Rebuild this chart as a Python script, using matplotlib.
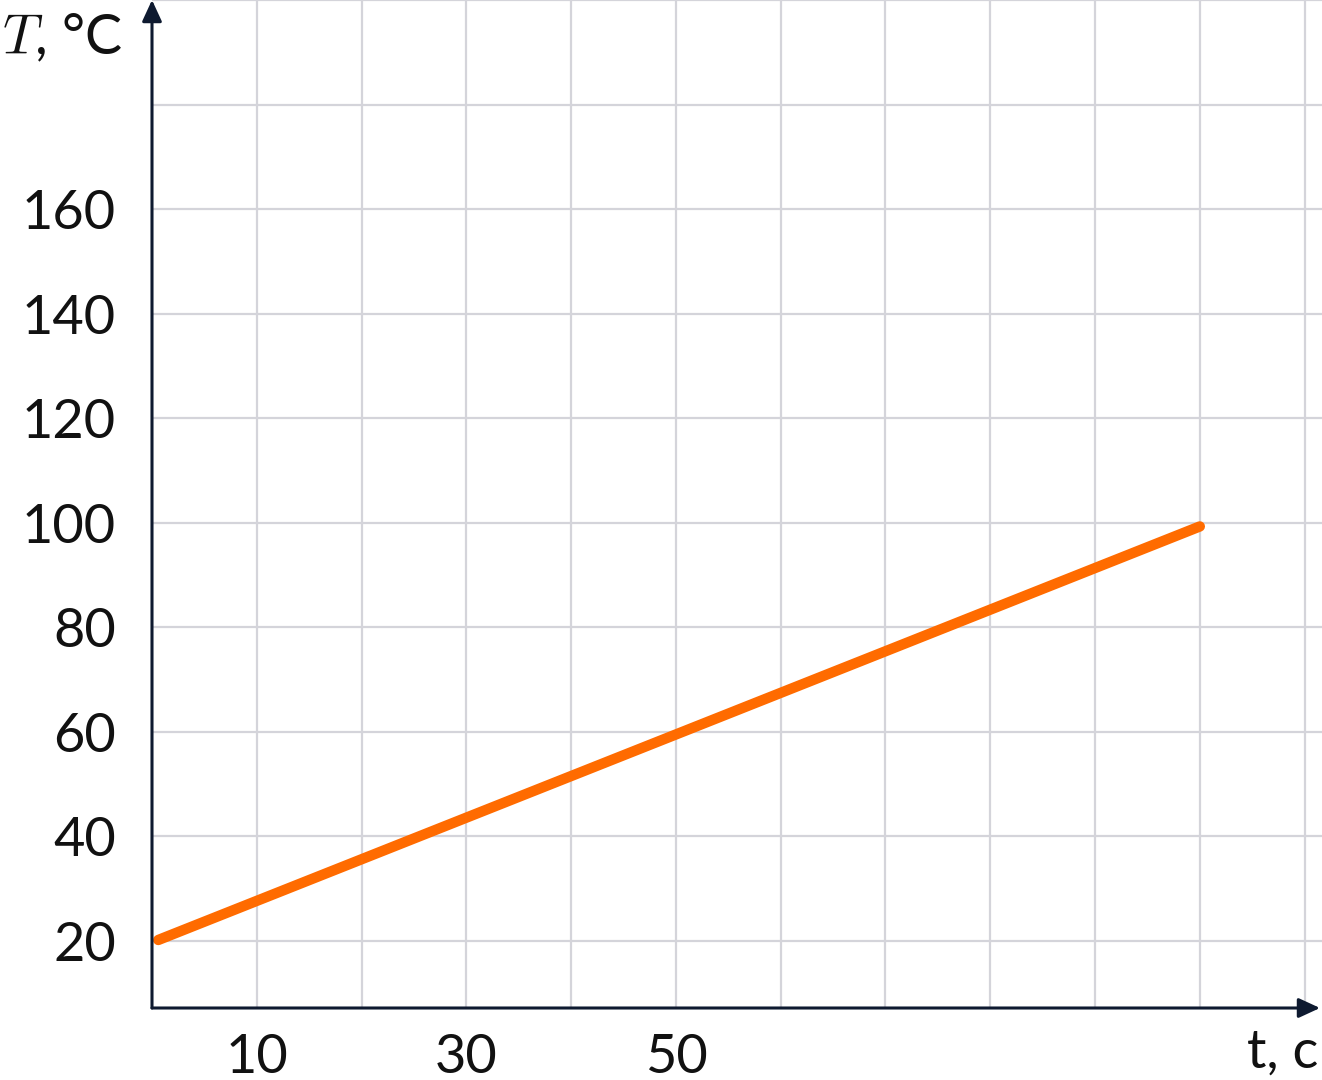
import matplotlib
matplotlib.use("Agg")
import matplotlib.pyplot as plt
import numpy as np

# data
t_values = [0.6, 100]
T_values = [20.2, 99.3]
x_ticks = [10, 30, 50]
x_tick_labels = ["10", "30", "50"]
y_ticks = [20, 40, 60, 80, 100, 120, 140, 160]
y_tick_labels = ["20", "40", "60", "80", "100", "120", "140", "160"]
x_grid = list(range(10, 111, 10))
y_grid = list(range(20, 201, 20))

plt.rcParams['font.family'] = ['Lato', 'DejaVu Sans']
plt.rcParams['mathtext.fontset'] = 'cm'

W, H = 1322, 1080
fig = plt.figure(figsize=(W / 100, H / 100), dpi=100)
ax = fig.add_axes([152 / W, (H - 1008) / H, (W - 152) / W, 1008 / H])

xmax = (W - 152) / 10.478
ymin = 20 - (1008 - 941) / 5.23
ax.set_xlim(0, xmax)
ax.set_ylim(ymin, 200)

grid_color = "#d4d4da"
for gx in x_grid:
    ax.axvline(gx, color=grid_color, lw=1.6, zorder=1)
for gy in y_grid:
    ax.axhline(gy, color=grid_color, lw=1.6, zorder=1)

ax.plot(t_values, T_values, color="#ff6b00", lw=7.5, solid_capstyle='round', zorder=3)

for s in ax.spines.values():
    s.set_visible(False)

axis_color = "#0e1a30"
astyle = '-|>,head_length=1.3,head_width=0.6'
ax.annotate('', xy=(0, 1.0), xytext=(0, 0), xycoords='axes fraction',
            arrowprops=dict(arrowstyle=astyle, color=axis_color, lw=2.2,
                            shrinkA=0, shrinkB=0), annotation_clip=False, zorder=5)
ax.annotate('', xy=(1168 / (W - 152), 0), xytext=(0, 0), xycoords='axes fraction',
            arrowprops=dict(arrowstyle=astyle, color=axis_color, lw=2.2,
                            shrinkA=0, shrinkB=0), annotation_clip=False, zorder=5)

ax.set_xticks(x_ticks)
ax.set_xticklabels(x_tick_labels)
ax.set_yticks(y_ticks)
ax.set_yticklabels(y_tick_labels)
ax.tick_params(axis='both', length=0, labelsize=39, colors="#111111")
ax.tick_params(axis='x', pad=18)
ax.tick_params(axis='y', pad=26)

fig.text(2 / W, 1 - 38 / H, r'$T$, °C', fontsize=40, ha='left', va='center', color="#111111")
fig.text(1318 / W, 1 - 1052 / H, 't, c', fontsize=39, ha='right', va='center', color="#111111")

fig.savefig("out.png", dpi=100)
